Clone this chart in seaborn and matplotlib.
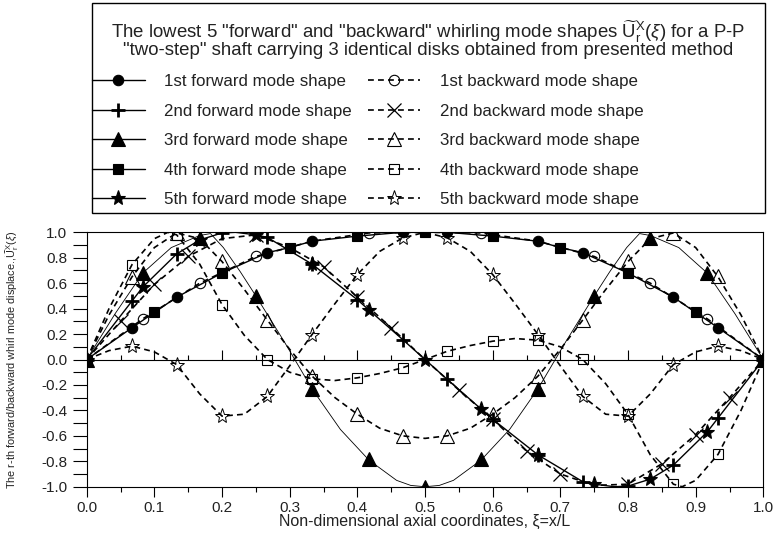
import matplotlib
matplotlib.use("Agg")
import matplotlib.pyplot as plt
import seaborn as sns
from matplotlib.lines import Line2D
from matplotlib.patches import Rectangle
from matplotlib.ticker import MultipleLocator, FormatStrFormatter

# DATA

# 1st / 4th forward (same curve)
f1_line_x = [0, 0.067, 0.1, 0.133, 0.2, 0.267, 0.3, 0.333, 0.4, 0.467, 0.5, 0.533, 0.6, 0.667, 0.7, 0.733, 0.8, 0.867, 0.9, 0.933, 1.0]
f1_line_y = [0, 0.25, 0.37, 0.49, 0.68, 0.84, 0.88, 0.93, 0.97, 1.0, 1.0, 1.0, 0.97, 0.93, 0.88, 0.84, 0.68, 0.49, 0.37, 0.25, 0]
f1_mark_x = [0, 0.067, 0.133, 0.267, 0.333, 0.467, 0.533, 0.667, 0.733, 0.867, 0.933, 1.0]
f1_mark_y = [0, 0.25, 0.49, 0.84, 0.93, 1.0, 1.0, 0.93, 0.84, 0.49, 0.25, 0]
f4_mark_x = [0, 0.1, 0.2, 0.3, 0.4, 0.5, 0.6, 0.7, 0.8, 0.9, 1.0]
f4_mark_y = [0, 0.37, 0.68, 0.88, 0.97, 1.0, 0.97, 0.88, 0.68, 0.37, 0]

# 1st backward
b1_line_x = [0, 0.083, 0.167, 0.25, 0.333, 0.417, 0.5, 0.583, 0.667, 0.75, 0.833, 0.917, 1.0]
b1_line_y = [0, 0.32, 0.60, 0.81, 0.93, 0.995, 1.0, 0.995, 0.93, 0.81, 0.60, 0.32, 0]
b1_mark_x = [0.083, 0.167, 0.25, 0.417, 0.583, 0.75, 0.833, 0.917]
b1_mark_y = [0.32, 0.60, 0.81, 0.995, 0.995, 0.81, 0.60, 0.32]

# 2nd / 5th forward (same curve)
f2_line_x = [0, 0.067, 0.083, 0.133, 0.167, 0.2, 0.22, 0.25, 0.267, 0.333, 0.4, 0.417, 0.467, 0.5,
             0.533, 0.583, 0.6, 0.667, 0.733, 0.75, 0.78, 0.8, 0.833, 0.867, 0.917, 0.933, 1.0]
f2_line_y = [0, 0.46, 0.57, 0.83, 0.94, 0.995, 1.0, 0.98, 0.96, 0.75, 0.47, 0.39, 0.157, 0,
             -0.157, -0.39, -0.47, -0.75, -0.96, -0.98, -1.0, -0.995, -0.94, -0.83, -0.57, -0.46, 0]
f2_mark_x = [0, 0.067, 0.133, 0.2, 0.267, 0.333, 0.4, 0.467, 0.533, 0.6, 0.667, 0.733, 0.8, 0.867, 0.933, 1.0]
f2_mark_y = [0, 0.46, 0.83, 0.995, 0.96, 0.75, 0.47, 0.157, -0.157, -0.47, -0.75, -0.96, -0.995, -0.83, -0.46, 0]
f5_mark_x = [0, 0.083, 0.167, 0.25, 0.333, 0.417, 0.5, 0.583, 0.667, 0.75, 0.833, 0.917, 1.0]
f5_mark_y = [0, 0.57, 0.94, 0.98, 0.75, 0.39, 0, -0.39, -0.75, -0.98, -0.94, -0.57, 0]

# 2nd backward
b2_line_x = [0, 0.05, 0.1, 0.15, 0.2, 0.25, 0.3, 0.35, 0.4, 0.45, 0.5, 0.55, 0.6, 0.65, 0.7, 0.75, 0.8, 0.85, 0.9, 0.95, 1.0]
b2_line_y = [0, 0.30, 0.59, 0.81, 0.95, 0.98, 0.88, 0.73, 0.49, 0.25, 0, -0.24, -0.47, -0.72, -0.90, -0.99, -0.98, -0.82, -0.59, -0.30, 0]
b2_mark_x = [0.05, 0.1, 0.15, 0.25, 0.35, 0.4, 0.45, 0.55, 0.6, 0.65, 0.7, 0.8, 0.85, 0.9, 0.95]
b2_mark_y = [0.30, 0.59, 0.81, 0.98, 0.73, 0.49, 0.25, -0.24, -0.47, -0.72, -0.90, -0.98, -0.82, -0.59, -0.30]

# 3rd forward
f3_line_x = [0, 0.042, 0.083, 0.125, 0.167, 0.183, 0.202, 0.227, 0.25, 0.292, 0.333, 0.375, 0.417, 0.458, 0.479, 0.5,
             0.521, 0.542, 0.583, 0.625, 0.667, 0.708, 0.75, 0.773, 0.798, 0.817, 0.833, 0.875, 0.917, 0.958, 1.0]
f3_line_y = [0, 0.36, 0.68, 0.88, 0.975, 0.99, 0.88, 0.69, 0.50, 0.14, -0.23, -0.55, -0.79, -0.95, -0.99, -1.0,
             -0.99, -0.95, -0.79, -0.55, -0.23, 0.14, 0.50, 0.69, 0.88, 0.99, 0.975, 0.88, 0.68, 0.36, 0]
f3_mark_x = [0, 0.083, 0.167, 0.25, 0.333, 0.417, 0.5, 0.583, 0.667, 0.75, 0.833, 0.917, 1.0]
f3_mark_y = [0, 0.68, 0.956, 0.497, -0.23, -0.786, -1.0, -0.786, -0.23, 0.497, 0.956, 0.68, 0]

# 3rd backward
b3_line_x = [0, 0.033, 0.067, 0.1, 0.133, 0.167, 0.2, 0.233, 0.267, 0.3, 0.333, 0.367, 0.4, 0.433, 0.467, 0.5,
             0.533, 0.567, 0.6, 0.633, 0.667, 0.7, 0.733, 0.767, 0.8, 0.833, 0.867, 0.9, 0.933, 0.967, 1.0]
b3_line_y = [0, 0.35, 0.65, 0.88, 0.995, 0.95, 0.77, 0.55, 0.31, 0.08, -0.13, -0.30, -0.43, -0.54, -0.60, -0.62,
             -0.60, -0.54, -0.43, -0.30, -0.13, 0.08, 0.31, 0.55, 0.77, 0.95, 0.995, 0.88, 0.65, 0.35, 0]
b3_mark_x = [0.067, 0.133, 0.2, 0.267, 0.333, 0.4, 0.467, 0.533, 0.6, 0.667, 0.733, 0.8, 0.867, 0.933]
b3_mark_y = [0.65, 0.995, 0.772, 0.314, -0.13, -0.43, -0.60, -0.60, -0.43, -0.13, 0.314, 0.772, 0.995, 0.654]

# 4th backward
b4_line_x = [0, 0.033, 0.067, 0.1, 0.12, 0.133, 0.167, 0.2, 0.233, 0.267, 0.3, 0.333, 0.367, 0.4, 0.433, 0.467, 0.5,
             0.533, 0.567, 0.6, 0.633, 0.667, 0.7, 0.733, 0.767, 0.8, 0.833, 0.867, 0.88, 0.9, 0.933, 0.967, 1.0]
b4_line_y = [0, 0.40, 0.746, 0.95, 1.0, 0.98, 0.75, 0.432, 0.19, 0, -0.10, -0.152, -0.165, -0.144, -0.11, -0.065, 0,
             0.065, 0.11, 0.144, 0.165, 0.152, 0.10, 0, -0.19, -0.432, -0.75, -0.98, -1.0, -0.95, -0.746, -0.40, 0]
b4_mark_x = [0.067, 0.133, 0.2, 0.267, 0.333, 0.4, 0.467, 0.533, 0.6, 0.667, 0.733, 0.8, 0.867, 0.933]
b4_mark_y = [0.746, 0.98, 0.432, 0, -0.152, -0.144, -0.065, 0.065, 0.144, 0.157, 0.005, -0.43, -0.98, -0.746]

# 5th backward
b5_line_x = [0, 0.033, 0.067, 0.1, 0.133, 0.167, 0.2, 0.233, 0.267, 0.3, 0.333, 0.367, 0.4, 0.433, 0.467, 0.5,
             0.533, 0.567, 0.6, 0.633, 0.667, 0.7, 0.733, 0.767, 0.8, 0.833, 0.867, 0.9, 0.933, 0.967, 1.0]
b5_line_y = [0, 0.07, 0.105, 0.06, -0.04, -0.27, -0.445, -0.43, -0.29, -0.05, 0.196, 0.44, 0.668, 0.85, 0.956, 1.0,
             0.956, 0.85, 0.668, 0.44, 0.196, -0.05, -0.29, -0.43, -0.445, -0.27, -0.04, 0.06, 0.105, 0.07, 0]
b5_mark_x = [0.067, 0.133, 0.2, 0.267, 0.333, 0.4, 0.467, 0.533, 0.6, 0.667, 0.733, 0.8, 0.867, 0.933]
b5_mark_y = [0.105, -0.04, -0.445, -0.29, 0.196, 0.668, 0.956, 0.956, 0.668, 0.196, -0.29, -0.445, -0.04, 0.105]

fwd_labels = ["1st forward mode shape", "2nd forward mode shape", "3rd forward mode shape",
              "4th forward mode shape", "5th forward mode shape"]
bwd_labels = ["1st backward mode shape", "2nd backward mode shape", "3rd backward mode shape",
              "4th backward mode shape", "5th backward mode shape"]

x_ticks = [0.0, 0.1, 0.2, 0.3, 0.4, 0.5, 0.6, 0.7, 0.8, 0.9, 1.0]
y_ticks = [-1.0, -0.8, -0.6, -0.4, -0.2, 0.0, 0.2, 0.4, 0.6, 0.8, 1.0]

# STYLE
sns.set_theme(style="ticks")
plt.rcParams['font.family'] = ['Liberation Sans', 'DejaVu Sans']
plt.rcParams['mathtext.fontset'] = 'custom'
plt.rcParams['mathtext.rm'] = 'Liberation Sans'
plt.rcParams['mathtext.it'] = 'Liberation Sans:italic'
plt.rcParams['mathtext.bf'] = 'Liberation Sans:bold'
plt.rcParams['axes.unicode_minus'] = False

DASH = (0, (3.5, 2.5))
K = 'black'
TXT = '#222222'

fig = plt.figure(figsize=(7.76, 5.39), dpi=100)
ax = fig.add_axes([0.1117, 0.097, 0.872, 0.472])


def line(x, y, ls='-', lw=1.0):
    sns.lineplot(x=x, y=y, ax=ax, color=K, linestyle=ls, linewidth=lw, estimator=None)


def marks(x, y, marker, size, filled=True, mew=0.8):
    sns.lineplot(x=x, y=y, ax=ax, linestyle='', marker=marker, markersize=size,
                 color=K, markeredgecolor=K, markeredgewidth=mew,
                 markerfacecolor=K if filled else 'none', estimator=None)


# backward (dashed, open markers)
line(b1_line_x, b1_line_y, DASH, 1.2)
line(b2_line_x, b2_line_y, DASH, 1.2)
line(b3_line_x, b3_line_y, DASH, 1.2)
line(b4_line_x, b4_line_y, DASH, 1.2)
line(b5_line_x, b5_line_y, DASH, 1.2)
marks(b1_mark_x, b1_mark_y, 'o', 7.5, False)
marks(b2_mark_x, b2_mark_y, 'x', 10, False, 0.9)
marks(b3_mark_x, b3_mark_y, '^', 10.5, False)
marks(b4_mark_x, b4_mark_y, 's', 7.5, False)
marks(b5_mark_x, b5_mark_y, '*', 11, False, 0.7)

# forward (solid, filled markers)
line(f1_line_x, f1_line_y, '-', 1.0)
line(f2_line_x, f2_line_y, '-', 1.0)
line(f3_line_x, f3_line_y, '-', 0.6)
marks(f1_mark_x, f1_mark_y, 'o', 7.5)
marks(f4_mark_x, f4_mark_y, 's', 7.5)
marks(f2_mark_x, f2_mark_y, '+', 10, True, 2.0)
marks(f3_mark_x, f3_mark_y, '^', 9.5)
marks(f5_mark_x, f5_mark_y, '*', 11)

# axes
ax.set_xlim(0, 1)
ax.set_ylim(-1, 1)
ax.set_xticks(x_ticks)
ax.set_yticks(y_ticks)
ax.xaxis.set_minor_locator(MultipleLocator(0.05))
ax.yaxis.set_minor_locator(MultipleLocator(0.1))
ax.xaxis.set_major_formatter(FormatStrFormatter('%.1f'))
ax.yaxis.set_major_formatter(FormatStrFormatter('%.1f'))
ax.tick_params(which='both', direction='out', color=K, labelsize=11, labelcolor=TXT, width=0.8)
ax.tick_params(axis='x', which='major', length=7, pad=3)
ax.tick_params(axis='x', which='minor', length=3.6)
ax.tick_params(axis='y', which='major', length=10, pad=4)
ax.tick_params(axis='y', which='minor', length=10)
for s in ax.spines.values():
    s.set_visible(True)
    s.set_color(K)
    s.set_linewidth(0.8)

# zero line with upward ticks
zero = ax.secondary_xaxis(0.5)
zero.xaxis.set_ticks_position('top')
zero.xaxis.set_major_locator(MultipleLocator(0.1))
zero.xaxis.set_minor_locator(MultipleLocator(0.05))
zero.tick_params(which='both', labeltop=False, labelbottom=False, direction='out', color=K, width=0.8)
zero.tick_params(which='major', length=7)
zero.tick_params(which='minor', length=3.6)
for s in zero.spines.values():
    s.set_color(K)
    s.set_linewidth(0.8)

ax.set_xlabel('Non-dimensional axial coordinates, ξ=x/L', fontsize=11.5, color=TXT)
ax.xaxis.set_label_coords(0.5, -0.108)
ax.set_ylabel(r'The r-th forward/backward whirl mode displace.,$\widetilde{\mathrm{U}}_{\mathrm{r}}^{\mathrm{X}}(\xi)$',
              fontsize=7.8, color=TXT)
ax.yaxis.set_label_coords(-0.097, 0.5)

# legend box with title
fig.add_artist(Rectangle((92 / 776, 1 - 213 / 539), (765 - 92) / 776, (213 - 3) / 539,
                         transform=fig.transFigure, fill=False, edgecolor=K, linewidth=1.0))
fig.text(428 / 776, 1 - 39 / 539,
         'The lowest 5 "forward" and "backward" whirling mode shapes '
         r'$\widetilde{\mathrm{U}}_{\mathrm{r}}^{\mathrm{X}}(\xi)$' ' for a P-P\n'
         '"two-step" shaft carrying 3 identical disks obtained from presented method',
         ha='center', va='center', multialignment='center', fontsize=13.4, color=TXT, linespacing=0.8)

fwd_style = [('o', 7.5, 0.8), ('+', 10, 2.0), ('^', 9.5, 0.8), ('s', 7.5, 0.8), ('*', 11, 0.8)]
bwd_style = [('o', 7.5, 0.8), ('x', 10, 0.9), ('^', 10.5, 0.8), ('s', 7.5, 0.8), ('*', 11, 0.7)]
handles = []
for m, ms, mew in fwd_style:
    handles.append(Line2D([], [], color=K, linestyle='-', linewidth=1.0, marker=m, markersize=ms,
                          markerfacecolor=K, markeredgecolor=K, markeredgewidth=mew))
for m, ms, mew in bwd_style:
    handles.append(Line2D([], [], color=K, linestyle=DASH, linewidth=1.2, marker=m, markersize=ms,
                          markerfacecolor='none', markeredgecolor=K, markeredgewidth=mew))
fig.legend(handles, fwd_labels + bwd_labels, ncol=2, loc='upper left',
           bbox_to_anchor=(92 / 776, 1 - 74 / 539), frameon=False, fontsize=12.2,
           handlelength=3.1, handletextpad=1.15, columnspacing=0.95, labelspacing=0.86,
           borderpad=0, borderaxespad=0, labelcolor=TXT)

fig.savefig('out.png', dpi=100)
